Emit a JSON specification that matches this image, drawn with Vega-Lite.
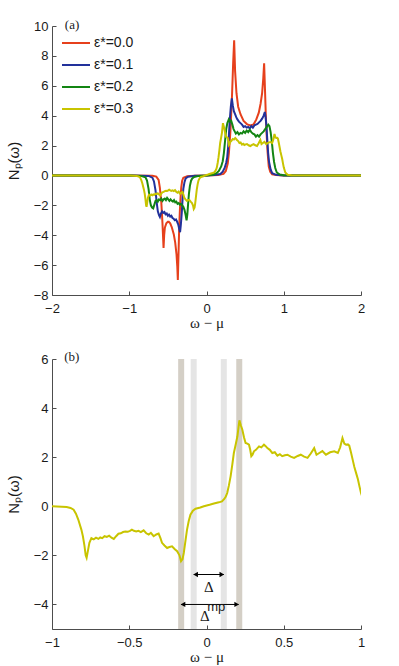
{
  "$schema": "https://vega.github.io/schema/vega-lite/v6.json",
  "background": "white",
  "padding": {"left": 6, "top": 18, "right": 5, "bottom": 5},
  "spacing": 20,
  "resolve": {"scale": {"color": "independent"}, "legend": {"color": "independent"}},
  "config": {
    "view": {"stroke": null},
    "axis": {
      "grid": false,
      "domainColor": "#4d4d4d",
      "tickColor": "#4d4d4d",
      "tickSize": -4,
      "labelFont": "Liberation Sans",
      "labelFontSize": 13,
      "labelColor": "#1a1a1a",
      "labelFlush": false,
      "labelOverlap": false,
      "titleFont": "Liberation Sans",
      "titleFontSize": 15,
      "titleFontWeight": "normal",
      "titleColor": "#1a1a1a"
    },
    "axisX": {"titleFont": "Liberation Serif", "titleFontSize": 15, "titlePadding": 0, "labelPadding": 11},
    "axisY": {"titlePadding": 12, "labelPadding": 8},
    "legend": {
      "labelFont": "Liberation Sans",
      "labelFontSize": 14,
      "labelColor": "#1a1a1a",
      "symbolType": "stroke",
      "symbolSize": 784,
      "symbolStrokeWidth": 2,
      "rowPadding": -10,
      "labelOffset": 3,
      "padding": 0,
      "title": null
    }
  },
  "datasets": {
    "curves": [
      {"w": -2, "N": 0, "eps": "ε*=0.0"},
      {"w": -1, "N": 0, "eps": "ε*=0.0"},
      {"w": -0.7, "N": -0.02, "eps": "ε*=0.0"},
      {"w": -0.65, "N": -0.08, "eps": "ε*=0.0"},
      {"w": -0.62, "N": -0.3, "eps": "ε*=0.0"},
      {"w": -0.604, "N": -0.82, "eps": "ε*=0.0"},
      {"w": -0.585, "N": -1.8, "eps": "ε*=0.0"},
      {"w": -0.57, "N": -3.2, "eps": "ε*=0.0"},
      {"w": -0.556, "N": -4.85, "eps": "ε*=0.0"},
      {"w": -0.548, "N": -4.0, "eps": "ε*=0.0"},
      {"w": -0.539, "N": -3.5, "eps": "ε*=0.0"},
      {"w": -0.52, "N": -3.2, "eps": "ε*=0.0"},
      {"w": -0.5, "N": -3.1, "eps": "ε*=0.0"},
      {"w": -0.488, "N": -3.1, "eps": "ε*=0.0"},
      {"w": -0.47, "N": -3.2, "eps": "ε*=0.0"},
      {"w": -0.45, "N": -3.45, "eps": "ε*=0.0"},
      {"w": -0.423, "N": -3.95, "eps": "ε*=0.0"},
      {"w": -0.405, "N": -4.5, "eps": "ε*=0.0"},
      {"w": -0.388, "N": -5.3, "eps": "ε*=0.0"},
      {"w": -0.378, "N": -6.1, "eps": "ε*=0.0"},
      {"w": -0.371, "N": -7.0, "eps": "ε*=0.0"},
      {"w": -0.362, "N": -5.2, "eps": "ε*=0.0"},
      {"w": -0.353, "N": -3.4, "eps": "ε*=0.0"},
      {"w": -0.345, "N": -2.4, "eps": "ε*=0.0"},
      {"w": -0.335, "N": -1.4, "eps": "ε*=0.0"},
      {"w": -0.327, "N": -0.82, "eps": "ε*=0.0"},
      {"w": -0.315, "N": -0.35, "eps": "ε*=0.0"},
      {"w": -0.3, "N": -0.15, "eps": "ε*=0.0"},
      {"w": -0.25, "N": -0.06, "eps": "ε*=0.0"},
      {"w": -0.15, "N": -0.02, "eps": "ε*=0.0"},
      {"w": 0, "N": 0, "eps": "ε*=0.0"},
      {"w": 0.15, "N": 0.03, "eps": "ε*=0.0"},
      {"w": 0.22, "N": 0.1, "eps": "ε*=0.0"},
      {"w": 0.25, "N": 0.3, "eps": "ε*=0.0"},
      {"w": 0.275, "N": 0.8, "eps": "ε*=0.0"},
      {"w": 0.29, "N": 1.5, "eps": "ε*=0.0"},
      {"w": 0.31, "N": 3.0, "eps": "ε*=0.0"},
      {"w": 0.33, "N": 5.3, "eps": "ε*=0.0"},
      {"w": 0.345, "N": 7.5, "eps": "ε*=0.0"},
      {"w": 0.358, "N": 9.05, "eps": "ε*=0.0"},
      {"w": 0.37, "N": 7.0, "eps": "ε*=0.0"},
      {"w": 0.388, "N": 5.5, "eps": "ε*=0.0"},
      {"w": 0.41, "N": 4.6, "eps": "ε*=0.0"},
      {"w": 0.44, "N": 4.1, "eps": "ε*=0.0"},
      {"w": 0.48, "N": 3.65, "eps": "ε*=0.0"},
      {"w": 0.526, "N": 3.42, "eps": "ε*=0.0"},
      {"w": 0.57, "N": 3.35, "eps": "ε*=0.0"},
      {"w": 0.61, "N": 3.42, "eps": "ε*=0.0"},
      {"w": 0.645, "N": 3.75, "eps": "ε*=0.0"},
      {"w": 0.677, "N": 4.2, "eps": "ε*=0.0"},
      {"w": 0.7, "N": 4.8, "eps": "ε*=0.0"},
      {"w": 0.72, "N": 5.5, "eps": "ε*=0.0"},
      {"w": 0.735, "N": 6.5, "eps": "ε*=0.0"},
      {"w": 0.746, "N": 7.5, "eps": "ε*=0.0"},
      {"w": 0.758, "N": 5.6, "eps": "ε*=0.0"},
      {"w": 0.768, "N": 4.0, "eps": "ε*=0.0"},
      {"w": 0.776, "N": 3.0, "eps": "ε*=0.0"},
      {"w": 0.79, "N": 1.6, "eps": "ε*=0.0"},
      {"w": 0.806, "N": 0.6, "eps": "ε*=0.0"},
      {"w": 0.825, "N": 0.25, "eps": "ε*=0.0"},
      {"w": 0.85, "N": 0.08, "eps": "ε*=0.0"},
      {"w": 0.9, "N": 0.03, "eps": "ε*=0.0"},
      {"w": 1.0, "N": 0, "eps": "ε*=0.0"},
      {"w": 2, "N": 0, "eps": "ε*=0.0"},

      {"w": -2, "N": 0, "eps": "ε*=0.1"},
      {"w": -1, "N": 0, "eps": "ε*=0.1"},
      {"w": -0.75, "N": -0.03, "eps": "ε*=0.1"},
      {"w": -0.7, "N": -0.15, "eps": "ε*=0.1"},
      {"w": -0.68, "N": -0.4, "eps": "ε*=0.1"},
      {"w": -0.66, "N": -1.0, "eps": "ε*=0.1"},
      {"w": -0.645, "N": -1.8, "eps": "ε*=0.1"},
      {"w": -0.63, "N": -2.4, "eps": "ε*=0.1"},
      {"w": -0.615, "N": -2.65, "eps": "ε*=0.1"},
      {"w": -0.603, "N": -2.78, "eps": "ε*=0.1"},
      {"w": -0.59, "N": -2.55, "eps": "ε*=0.1"},
      {"w": -0.575, "N": -2.4, "eps": "ε*=0.1"},
      {"w": -0.56, "N": -2.5, "eps": "ε*=0.1"},
      {"w": -0.545, "N": -2.45, "eps": "ε*=0.1"},
      {"w": -0.53, "N": -2.6, "eps": "ε*=0.1"},
      {"w": -0.515, "N": -2.55, "eps": "ε*=0.1"},
      {"w": -0.5, "N": -2.7, "eps": "ε*=0.1"},
      {"w": -0.485, "N": -2.62, "eps": "ε*=0.1"},
      {"w": -0.47, "N": -2.75, "eps": "ε*=0.1"},
      {"w": -0.455, "N": -2.7, "eps": "ε*=0.1"},
      {"w": -0.44, "N": -2.85, "eps": "ε*=0.1"},
      {"w": -0.425, "N": -2.9, "eps": "ε*=0.1"},
      {"w": -0.41, "N": -3.0, "eps": "ε*=0.1"},
      {"w": -0.395, "N": -2.95, "eps": "ε*=0.1"},
      {"w": -0.38, "N": -3.1, "eps": "ε*=0.1"},
      {"w": -0.365, "N": -3.3, "eps": "ε*=0.1"},
      {"w": -0.352, "N": -3.6, "eps": "ε*=0.1"},
      {"w": -0.342, "N": -3.8, "eps": "ε*=0.1"},
      {"w": -0.332, "N": -3.3, "eps": "ε*=0.1"},
      {"w": -0.32, "N": -2.5, "eps": "ε*=0.1"},
      {"w": -0.31, "N": -1.6, "eps": "ε*=0.1"},
      {"w": -0.3, "N": -0.9, "eps": "ε*=0.1"},
      {"w": -0.285, "N": -0.45, "eps": "ε*=0.1"},
      {"w": -0.27, "N": -0.2, "eps": "ε*=0.1"},
      {"w": -0.24, "N": -0.08, "eps": "ε*=0.1"},
      {"w": -0.15, "N": -0.02, "eps": "ε*=0.1"},
      {"w": 0, "N": 0, "eps": "ε*=0.1"},
      {"w": 0.1, "N": 0.03, "eps": "ε*=0.1"},
      {"w": 0.18, "N": 0.1, "eps": "ε*=0.1"},
      {"w": 0.21, "N": 0.25, "eps": "ε*=0.1"},
      {"w": 0.235, "N": 0.5, "eps": "ε*=0.1"},
      {"w": 0.255, "N": 0.85, "eps": "ε*=0.1"},
      {"w": 0.268, "N": 1.2, "eps": "ε*=0.1"},
      {"w": 0.28, "N": 1.9, "eps": "ε*=0.1"},
      {"w": 0.29, "N": 2.7, "eps": "ε*=0.1"},
      {"w": 0.302, "N": 3.75, "eps": "ε*=0.1"},
      {"w": 0.315, "N": 4.6, "eps": "ε*=0.1"},
      {"w": 0.328, "N": 5.15, "eps": "ε*=0.1"},
      {"w": 0.34, "N": 4.7, "eps": "ε*=0.1"},
      {"w": 0.354, "N": 4.3, "eps": "ε*=0.1"},
      {"w": 0.37, "N": 4.1, "eps": "ε*=0.1"},
      {"w": 0.385, "N": 3.9, "eps": "ε*=0.1"},
      {"w": 0.4, "N": 3.75, "eps": "ε*=0.1"},
      {"w": 0.42, "N": 3.6, "eps": "ε*=0.1"},
      {"w": 0.44, "N": 3.5, "eps": "ε*=0.1"},
      {"w": 0.46, "N": 3.4, "eps": "ε*=0.1"},
      {"w": 0.48, "N": 3.25, "eps": "ε*=0.1"},
      {"w": 0.5, "N": 3.3, "eps": "ε*=0.1"},
      {"w": 0.52, "N": 3.2, "eps": "ε*=0.1"},
      {"w": 0.54, "N": 3.25, "eps": "ε*=0.1"},
      {"w": 0.56, "N": 3.15, "eps": "ε*=0.1"},
      {"w": 0.58, "N": 3.3, "eps": "ε*=0.1"},
      {"w": 0.6, "N": 3.2, "eps": "ε*=0.1"},
      {"w": 0.62, "N": 3.35, "eps": "ε*=0.1"},
      {"w": 0.64, "N": 3.4, "eps": "ε*=0.1"},
      {"w": 0.66, "N": 3.45, "eps": "ε*=0.1"},
      {"w": 0.68, "N": 3.55, "eps": "ε*=0.1"},
      {"w": 0.7, "N": 3.65, "eps": "ε*=0.1"},
      {"w": 0.72, "N": 3.8, "eps": "ε*=0.1"},
      {"w": 0.74, "N": 4.0, "eps": "ε*=0.1"},
      {"w": 0.755, "N": 4.25, "eps": "ε*=0.1"},
      {"w": 0.765, "N": 3.9, "eps": "ε*=0.1"},
      {"w": 0.776, "N": 3.3, "eps": "ε*=0.1"},
      {"w": 0.788, "N": 2.3, "eps": "ε*=0.1"},
      {"w": 0.798, "N": 1.5, "eps": "ε*=0.1"},
      {"w": 0.81, "N": 0.9, "eps": "ε*=0.1"},
      {"w": 0.83, "N": 0.4, "eps": "ε*=0.1"},
      {"w": 0.85, "N": 0.15, "eps": "ε*=0.1"},
      {"w": 0.9, "N": 0.04, "eps": "ε*=0.1"},
      {"w": 1.0, "N": 0, "eps": "ε*=0.1"},
      {"w": 2, "N": 0, "eps": "ε*=0.1"},

      {"w": -2, "N": 0, "eps": "ε*=0.2"},
      {"w": -1, "N": 0, "eps": "ε*=0.2"},
      {"w": -0.85, "N": -0.03, "eps": "ε*=0.2"},
      {"w": -0.79, "N": -0.12, "eps": "ε*=0.2"},
      {"w": -0.77, "N": -0.35, "eps": "ε*=0.2"},
      {"w": -0.75, "N": -0.9, "eps": "ε*=0.2"},
      {"w": -0.735, "N": -1.6, "eps": "ε*=0.2"},
      {"w": -0.72, "N": -2.0, "eps": "ε*=0.2"},
      {"w": -0.705, "N": -2.15, "eps": "ε*=0.2"},
      {"w": -0.69, "N": -2.2, "eps": "ε*=0.2"},
      {"w": -0.675, "N": -1.95, "eps": "ε*=0.2"},
      {"w": -0.66, "N": -1.7, "eps": "ε*=0.2"},
      {"w": -0.645, "N": -1.65, "eps": "ε*=0.2"},
      {"w": -0.63, "N": -1.75, "eps": "ε*=0.2"},
      {"w": -0.615, "N": -1.6, "eps": "ε*=0.2"},
      {"w": -0.6, "N": -1.65, "eps": "ε*=0.2"},
      {"w": -0.585, "N": -1.55, "eps": "ε*=0.2"},
      {"w": -0.57, "N": -1.7, "eps": "ε*=0.2"},
      {"w": -0.555, "N": -1.6, "eps": "ε*=0.2"},
      {"w": -0.54, "N": -1.55, "eps": "ε*=0.2"},
      {"w": -0.525, "N": -1.65, "eps": "ε*=0.2"},
      {"w": -0.51, "N": -1.5, "eps": "ε*=0.2"},
      {"w": -0.495, "N": -1.6, "eps": "ε*=0.2"},
      {"w": -0.48, "N": -1.7, "eps": "ε*=0.2"},
      {"w": -0.465, "N": -1.6, "eps": "ε*=0.2"},
      {"w": -0.45, "N": -1.7, "eps": "ε*=0.2"},
      {"w": -0.435, "N": -1.75, "eps": "ε*=0.2"},
      {"w": -0.42, "N": -1.65, "eps": "ε*=0.2"},
      {"w": -0.405, "N": -1.8, "eps": "ε*=0.2"},
      {"w": -0.39, "N": -1.75, "eps": "ε*=0.2"},
      {"w": -0.375, "N": -1.9, "eps": "ε*=0.2"},
      {"w": -0.36, "N": -1.85, "eps": "ε*=0.2"},
      {"w": -0.345, "N": -1.95, "eps": "ε*=0.2"},
      {"w": -0.33, "N": -1.9, "eps": "ε*=0.2"},
      {"w": -0.315, "N": -2.0, "eps": "ε*=0.2"},
      {"w": -0.3, "N": -2.1, "eps": "ε*=0.2"},
      {"w": -0.285, "N": -2.3, "eps": "ε*=0.2"},
      {"w": -0.27, "N": -2.65, "eps": "ε*=0.2"},
      {"w": -0.258, "N": -3.0, "eps": "ε*=0.2"},
      {"w": -0.248, "N": -2.6, "eps": "ε*=0.2"},
      {"w": -0.238, "N": -1.9, "eps": "ε*=0.2"},
      {"w": -0.228, "N": -1.25, "eps": "ε*=0.2"},
      {"w": -0.215, "N": -0.7, "eps": "ε*=0.2"},
      {"w": -0.2, "N": -0.35, "eps": "ε*=0.2"},
      {"w": -0.185, "N": -0.2, "eps": "ε*=0.2"},
      {"w": -0.16, "N": -0.1, "eps": "ε*=0.2"},
      {"w": -0.1, "N": -0.03, "eps": "ε*=0.2"},
      {"w": 0, "N": 0, "eps": "ε*=0.2"},
      {"w": 0.08, "N": 0.05, "eps": "ε*=0.2"},
      {"w": 0.13, "N": 0.15, "eps": "ε*=0.2"},
      {"w": 0.16, "N": 0.3, "eps": "ε*=0.2"},
      {"w": 0.19, "N": 0.6, "eps": "ε*=0.2"},
      {"w": 0.21, "N": 0.95, "eps": "ε*=0.2"},
      {"w": 0.225, "N": 1.5, "eps": "ε*=0.2"},
      {"w": 0.24, "N": 2.3, "eps": "ε*=0.2"},
      {"w": 0.255, "N": 3.1, "eps": "ε*=0.2"},
      {"w": 0.27, "N": 3.5, "eps": "ε*=0.2"},
      {"w": 0.289, "N": 3.75, "eps": "ε*=0.2"},
      {"w": 0.305, "N": 3.6, "eps": "ε*=0.2"},
      {"w": 0.32, "N": 3.65, "eps": "ε*=0.2"},
      {"w": 0.335, "N": 3.4, "eps": "ε*=0.2"},
      {"w": 0.35, "N": 3.1, "eps": "ε*=0.2"},
      {"w": 0.365, "N": 2.95, "eps": "ε*=0.2"},
      {"w": 0.38, "N": 2.8, "eps": "ε*=0.2"},
      {"w": 0.4, "N": 2.9, "eps": "ε*=0.2"},
      {"w": 0.42, "N": 2.75, "eps": "ε*=0.2"},
      {"w": 0.44, "N": 2.85, "eps": "ε*=0.2"},
      {"w": 0.46, "N": 2.8, "eps": "ε*=0.2"},
      {"w": 0.48, "N": 2.95, "eps": "ε*=0.2"},
      {"w": 0.5, "N": 2.85, "eps": "ε*=0.2"},
      {"w": 0.52, "N": 3.0, "eps": "ε*=0.2"},
      {"w": 0.54, "N": 2.9, "eps": "ε*=0.2"},
      {"w": 0.56, "N": 3.05, "eps": "ε*=0.2"},
      {"w": 0.58, "N": 2.9, "eps": "ε*=0.2"},
      {"w": 0.6, "N": 2.8, "eps": "ε*=0.2"},
      {"w": 0.62, "N": 2.75, "eps": "ε*=0.2"},
      {"w": 0.64, "N": 2.6, "eps": "ε*=0.2"},
      {"w": 0.66, "N": 2.7, "eps": "ε*=0.2"},
      {"w": 0.68, "N": 2.6, "eps": "ε*=0.2"},
      {"w": 0.7, "N": 2.75, "eps": "ε*=0.2"},
      {"w": 0.72, "N": 2.85, "eps": "ε*=0.2"},
      {"w": 0.74, "N": 2.95, "eps": "ε*=0.2"},
      {"w": 0.76, "N": 3.1, "eps": "ε*=0.2"},
      {"w": 0.78, "N": 3.25, "eps": "ε*=0.2"},
      {"w": 0.8, "N": 3.4, "eps": "ε*=0.2"},
      {"w": 0.815, "N": 3.3, "eps": "ε*=0.2"},
      {"w": 0.83, "N": 2.9, "eps": "ε*=0.2"},
      {"w": 0.845, "N": 2.3, "eps": "ε*=0.2"},
      {"w": 0.86, "N": 1.5, "eps": "ε*=0.2"},
      {"w": 0.875, "N": 0.9, "eps": "ε*=0.2"},
      {"w": 0.89, "N": 0.5, "eps": "ε*=0.2"},
      {"w": 0.91, "N": 0.2, "eps": "ε*=0.2"},
      {"w": 0.95, "N": 0.06, "eps": "ε*=0.2"},
      {"w": 1.0, "N": 0.02, "eps": "ε*=0.2"},
      {"w": 1.1, "N": 0, "eps": "ε*=0.2"},
      {"w": 2, "N": 0, "eps": "ε*=0.2"},

      {"w": -2, "N": 0, "eps": "ε*=0.3"},
      {"w": -1, "N": 0, "eps": "ε*=0.3"},
      {"w": -0.905, "N": -0.03, "eps": "ε*=0.3"},
      {"w": -0.88, "N": -0.07, "eps": "ε*=0.3"},
      {"w": -0.86, "N": -0.14, "eps": "ε*=0.3"},
      {"w": -0.845, "N": -0.3, "eps": "ε*=0.3"},
      {"w": -0.83, "N": -0.54, "eps": "ε*=0.3"},
      {"w": -0.81, "N": -0.95, "eps": "ε*=0.3"},
      {"w": -0.8, "N": -1.22, "eps": "ε*=0.3"},
      {"w": -0.79, "N": -1.6, "eps": "ε*=0.3"},
      {"w": -0.782, "N": -2.0, "eps": "ε*=0.3"},
      {"w": -0.776, "N": -2.1, "eps": "ε*=0.3"},
      {"w": -0.77, "N": -1.9, "eps": "ε*=0.3"},
      {"w": -0.758, "N": -1.49, "eps": "ε*=0.3"},
      {"w": -0.745, "N": -1.3, "eps": "ε*=0.3"},
      {"w": -0.73, "N": -1.35, "eps": "ε*=0.3"},
      {"w": -0.715, "N": -1.28, "eps": "ε*=0.3"},
      {"w": -0.7, "N": -1.33, "eps": "ε*=0.3"},
      {"w": -0.688, "N": -1.27, "eps": "ε*=0.3"},
      {"w": -0.675, "N": -1.3, "eps": "ε*=0.3"},
      {"w": -0.66, "N": -1.22, "eps": "ε*=0.3"},
      {"w": -0.645, "N": -1.25, "eps": "ε*=0.3"},
      {"w": -0.63, "N": -1.2, "eps": "ε*=0.3"},
      {"w": -0.615, "N": -1.28, "eps": "ε*=0.3"},
      {"w": -0.6, "N": -1.33, "eps": "ε*=0.3"},
      {"w": -0.585, "N": -1.22, "eps": "ε*=0.3"},
      {"w": -0.57, "N": -1.12, "eps": "ε*=0.3"},
      {"w": -0.555, "N": -1.1, "eps": "ε*=0.3"},
      {"w": -0.54, "N": -1.05, "eps": "ε*=0.3"},
      {"w": -0.525, "N": -1.03, "eps": "ε*=0.3"},
      {"w": -0.51, "N": -1.04, "eps": "ε*=0.3"},
      {"w": -0.495, "N": -1.0, "eps": "ε*=0.3"},
      {"w": -0.483, "N": -0.95, "eps": "ε*=0.3"},
      {"w": -0.47, "N": -1.0, "eps": "ε*=0.3"},
      {"w": -0.455, "N": -1.03, "eps": "ε*=0.3"},
      {"w": -0.44, "N": -1.0, "eps": "ε*=0.3"},
      {"w": -0.425, "N": -1.05, "eps": "ε*=0.3"},
      {"w": -0.407, "N": -0.98, "eps": "ε*=0.3"},
      {"w": -0.39, "N": -1.1, "eps": "ε*=0.3"},
      {"w": -0.374, "N": -1.15, "eps": "ε*=0.3"},
      {"w": -0.36, "N": -1.08, "eps": "ε*=0.3"},
      {"w": -0.342, "N": -1.22, "eps": "ε*=0.3"},
      {"w": -0.325, "N": -1.15, "eps": "ε*=0.3"},
      {"w": -0.31, "N": -1.11, "eps": "ε*=0.3"},
      {"w": -0.298, "N": -1.3, "eps": "ε*=0.3"},
      {"w": -0.288, "N": -1.49, "eps": "ε*=0.3"},
      {"w": -0.272, "N": -1.6, "eps": "ε*=0.3"},
      {"w": -0.255, "N": -1.7, "eps": "ε*=0.3"},
      {"w": -0.24, "N": -1.66, "eps": "ε*=0.3"},
      {"w": -0.223, "N": -1.63, "eps": "ε*=0.3"},
      {"w": -0.205, "N": -1.75, "eps": "ε*=0.3"},
      {"w": -0.19, "N": -1.83, "eps": "ε*=0.3"},
      {"w": -0.175, "N": -2.0, "eps": "ε*=0.3"},
      {"w": -0.165, "N": -2.24, "eps": "ε*=0.3"},
      {"w": -0.155, "N": -2.15, "eps": "ε*=0.3"},
      {"w": -0.147, "N": -1.9, "eps": "ε*=0.3"},
      {"w": -0.136, "N": -1.4, "eps": "ε*=0.3"},
      {"w": -0.126, "N": -0.95, "eps": "ε*=0.3"},
      {"w": -0.115, "N": -0.6, "eps": "ε*=0.3"},
      {"w": -0.104, "N": -0.34, "eps": "ε*=0.3"},
      {"w": -0.088, "N": -0.18, "eps": "ε*=0.3"},
      {"w": -0.071, "N": -0.1, "eps": "ε*=0.3"},
      {"w": -0.04, "N": -0.05, "eps": "ε*=0.3"},
      {"w": -0.017, "N": 0, "eps": "ε*=0.3"},
      {"w": 0.02, "N": 0.06, "eps": "ε*=0.3"},
      {"w": 0.048, "N": 0.11, "eps": "ε*=0.3"},
      {"w": 0.08, "N": 0.16, "eps": "ε*=0.3"},
      {"w": 0.1, "N": 0.2, "eps": "ε*=0.3"},
      {"w": 0.115, "N": 0.3, "eps": "ε*=0.3"},
      {"w": 0.125, "N": 0.4, "eps": "ε*=0.3"},
      {"w": 0.134, "N": 0.54, "eps": "ε*=0.3"},
      {"w": 0.145, "N": 0.85, "eps": "ε*=0.3"},
      {"w": 0.156, "N": 1.22, "eps": "ε*=0.3"},
      {"w": 0.167, "N": 1.7, "eps": "ε*=0.3"},
      {"w": 0.177, "N": 2.17, "eps": "ε*=0.3"},
      {"w": 0.19, "N": 2.55, "eps": "ε*=0.3"},
      {"w": 0.2, "N": 2.85, "eps": "ε*=0.3"},
      {"w": 0.207, "N": 3.2, "eps": "ε*=0.3"},
      {"w": 0.213, "N": 3.5, "eps": "ε*=0.3"},
      {"w": 0.222, "N": 3.3, "eps": "ε*=0.3"},
      {"w": 0.232, "N": 3.12, "eps": "ε*=0.3"},
      {"w": 0.243, "N": 2.8, "eps": "ε*=0.3"},
      {"w": 0.253, "N": 2.58, "eps": "ε*=0.3"},
      {"w": 0.264, "N": 2.55, "eps": "ε*=0.3"},
      {"w": 0.275, "N": 2.51, "eps": "ε*=0.3"},
      {"w": 0.283, "N": 2.3, "eps": "ε*=0.3"},
      {"w": 0.29, "N": 2.04, "eps": "ε*=0.3"},
      {"w": 0.298, "N": 2.1, "eps": "ε*=0.3"},
      {"w": 0.307, "N": 2.24, "eps": "ε*=0.3"},
      {"w": 0.32, "N": 2.3, "eps": "ε*=0.3"},
      {"w": 0.34, "N": 2.44, "eps": "ε*=0.3"},
      {"w": 0.355, "N": 2.4, "eps": "ε*=0.3"},
      {"w": 0.372, "N": 2.51, "eps": "ε*=0.3"},
      {"w": 0.383, "N": 2.45, "eps": "ε*=0.3"},
      {"w": 0.394, "N": 2.37, "eps": "ε*=0.3"},
      {"w": 0.41, "N": 2.3, "eps": "ε*=0.3"},
      {"w": 0.426, "N": 2.17, "eps": "ε*=0.3"},
      {"w": 0.442, "N": 2.2, "eps": "ε*=0.3"},
      {"w": 0.459, "N": 2.06, "eps": "ε*=0.3"},
      {"w": 0.475, "N": 2.12, "eps": "ε*=0.3"},
      {"w": 0.49, "N": 2.04, "eps": "ε*=0.3"},
      {"w": 0.507, "N": 2.08, "eps": "ε*=0.3"},
      {"w": 0.524, "N": 2.1, "eps": "ε*=0.3"},
      {"w": 0.545, "N": 2.02, "eps": "ε*=0.3"},
      {"w": 0.567, "N": 1.97, "eps": "ε*=0.3"},
      {"w": 0.59, "N": 2.05, "eps": "ε*=0.3"},
      {"w": 0.61, "N": 2.1, "eps": "ε*=0.3"},
      {"w": 0.632, "N": 2.02, "eps": "ε*=0.3"},
      {"w": 0.654, "N": 1.97, "eps": "ε*=0.3"},
      {"w": 0.675, "N": 2.15, "eps": "ε*=0.3"},
      {"w": 0.697, "N": 2.37, "eps": "ε*=0.3"},
      {"w": 0.712, "N": 2.1, "eps": "ε*=0.3"},
      {"w": 0.73, "N": 2.17, "eps": "ε*=0.3"},
      {"w": 0.75, "N": 2.25, "eps": "ε*=0.3"},
      {"w": 0.773, "N": 2.1, "eps": "ε*=0.3"},
      {"w": 0.8, "N": 2.2, "eps": "ε*=0.3"},
      {"w": 0.827, "N": 2.24, "eps": "ε*=0.3"},
      {"w": 0.85, "N": 2.17, "eps": "ε*=0.3"},
      {"w": 0.865, "N": 2.4, "eps": "ε*=0.3"},
      {"w": 0.88, "N": 2.78, "eps": "ε*=0.3"},
      {"w": 0.892, "N": 2.55, "eps": "ε*=0.3"},
      {"w": 0.903, "N": 2.51, "eps": "ε*=0.3"},
      {"w": 0.915, "N": 2.52, "eps": "ε*=0.3"},
      {"w": 0.924, "N": 2.47, "eps": "ε*=0.3"},
      {"w": 0.935, "N": 2.2, "eps": "ε*=0.3"},
      {"w": 0.946, "N": 1.9, "eps": "ε*=0.3"},
      {"w": 0.957, "N": 1.6, "eps": "ε*=0.3"},
      {"w": 0.968, "N": 1.36, "eps": "ε*=0.3"},
      {"w": 0.98, "N": 1.1, "eps": "ε*=0.3"},
      {"w": 0.99, "N": 0.81, "eps": "ε*=0.3"},
      {"w": 1.0, "N": 0.54, "eps": "ε*=0.3"},
      {"w": 1.02, "N": 0.2, "eps": "ε*=0.3"},
      {"w": 1.05, "N": 0.05, "eps": "ε*=0.3"},
      {"w": 1.1, "N": 0.01, "eps": "ε*=0.3"},
      {"w": 2, "N": 0, "eps": "ε*=0.3"}
    ],
    "bands": [
      {"w": -0.164, "kind": "outer"},
      {"w": -0.083, "kind": "inner"},
      {"w": 0.112, "kind": "inner"},
      {"w": 0.212, "kind": "outer"}
    ],
    "arrows": [
      {"x1": -0.083, "x2": 0.112, "y": -2.78, "name": "Δ"},
      {"x1": -0.165, "x2": 0.208, "y": -4.0, "name": "Δmp"}
    ],
    "symbols": [
      {"x": 0.015, "y": -3.27, "t": "Δ"},
      {"x": -0.011, "y": -4.48, "t": "Δ"}
    ]
  },
  "vconcat": [
    {
      "width": 309,
      "height": 269,
      "layer": [
        {
          "data": {"name": "curves"},
          "mark": {"type": "line", "strokeWidth": 2, "clip": true},
          "encoding": {
            "x": {"field": "w", "type": "quantitative", "scale": {"domain": [-2, 2], "nice": false}, "axis": {"values": [-2, -1, 0, 1, 2], "format": "~r", "labelOverlap": false, "title": "ω − μ"}},
            "y": {"field": "N", "type": "quantitative", "scale": {"domain": [-8, 10], "nice": false}, "axis": {"values": [-8, -6, -4, -2, 0, 2, 4, 6, 8, 10], "format": "~r", "labelOverlap": false, "title": "Nₚ(ω)"}},
            "color": {
              "field": "eps", "type": "nominal",
              "scale": {"domain": ["ε*=0.0", "ε*=0.1", "ε*=0.2", "ε*=0.3"], "range": ["#e6401c", "#22319b", "#138513", "#c8c400"]},
              "legend": {"orient": "none", "legendX": 9, "legendY": 2, "title": null}
            }
          }
        },
        {
          "data": {"values": [{"x": -1.74, "y": 10.07, "t": "(a)"}]},
          "mark": {"type": "text", "font": "Liberation Serif", "fontSize": 13, "color": "#1a1a1a", "align": "center", "baseline": "middle"},
          "encoding": {
            "x": {"field": "x", "type": "quantitative", "axis": {"values": [-2, -1, 0, 1, 2], "format": "~r", "labelOverlap": false, "title": "ω − μ"}},
            "y": {"field": "y", "type": "quantitative", "axis": {"values": [-8, -6, -4, -2, 0, 2, 4, 6, 8, 10], "format": "~r", "labelOverlap": false, "title": "Nₚ(ω)"}},
            "text": {"field": "t"}
          }
        }
      ]
    },
    {
      "width": 309,
      "height": 270,
      "layer": [
        {
          "data": {"name": "bands"},
          "mark": {"type": "rule", "strokeWidth": 6},
          "encoding": {
            "x": {"field": "w", "type": "quantitative", "scale": {"domain": [-1, 1], "nice": false}, "axis": {"values": [-1, -0.5, 0, 0.5, 1], "format": "~r", "labelOverlap": false, "title": "ω − μ"}},
            "color": {"field": "kind", "type": "nominal", "scale": {"domain": ["outer", "inner"], "range": ["#d4cfc6", "#e5e5e5"]}, "legend": null}
          }
        },
        {
          "data": {"name": "curves"},
          "transform": [{"filter": "datum.eps === 'ε*=0.3'"}],
          "mark": {"type": "line", "strokeWidth": 2, "clip": true, "color": "#c8c400"},
          "encoding": {
            "x": {"field": "w", "type": "quantitative", "scale": {"domain": [-1, 1], "nice": false}, "axis": {"values": [-1, -0.5, 0, 0.5, 1], "format": "~r", "labelOverlap": false, "title": "ω − μ"}},
            "y": {"field": "N", "type": "quantitative", "scale": {"domain": [-5, 6], "nice": false}, "axis": {"values": [-4, -2, 0, 2, 4, 6], "format": "~r", "labelOverlap": false, "title": "Nₚ(ω)"}}
          }
        },
        {
          "data": {"name": "arrows"},
          "mark": {"type": "rule", "strokeWidth": 1, "color": "black"},
          "encoding": {
            "x": {"field": "x1", "type": "quantitative", "scale": {"domain": [-1, 1], "nice": false}, "axis": {"values": [-1, -0.5, 0, 0.5, 1], "format": "~r", "labelOverlap": false, "title": "ω − μ"}},
            "x2": {"field": "x2"},
            "y": {"field": "y", "type": "quantitative", "scale": {"domain": [-5, 6], "nice": false}, "axis": {"values": [-4, -2, 0, 2, 4, 6], "format": "~r", "labelOverlap": false, "title": "Nₚ(ω)"}}
          }
        },
        {
          "data": {"name": "arrows"},
          "mark": {"type": "point", "shape": "triangle-left", "filled": true, "color": "black", "size": 28, "opacity": 1, "xOffset": 2},
          "encoding": {
            "x": {"field": "x1", "type": "quantitative", "scale": {"domain": [-1, 1], "nice": false}, "axis": {"values": [-1, -0.5, 0, 0.5, 1], "format": "~r", "labelOverlap": false, "title": "ω − μ"}},
            "y": {"field": "y", "type": "quantitative", "scale": {"domain": [-5, 6], "nice": false}, "axis": {"values": [-4, -2, 0, 2, 4, 6], "format": "~r", "labelOverlap": false, "title": "Nₚ(ω)"}}
          }
        },
        {
          "data": {"name": "arrows"},
          "mark": {"type": "point", "shape": "triangle-right", "filled": true, "color": "black", "size": 28, "opacity": 1, "xOffset": -2},
          "encoding": {
            "x": {"field": "x2", "type": "quantitative", "scale": {"domain": [-1, 1], "nice": false}, "axis": {"values": [-1, -0.5, 0, 0.5, 1], "format": "~r", "labelOverlap": false, "title": "ω − μ"}},
            "y": {"field": "y", "type": "quantitative", "scale": {"domain": [-5, 6], "nice": false}, "axis": {"values": [-4, -2, 0, 2, 4, 6], "format": "~r", "labelOverlap": false, "title": "Nₚ(ω)"}}
          }
        },
        {
          "data": {"name": "symbols"},
          "mark": {"type": "text", "font": "Liberation Serif", "fontSize": 15, "color": "#1a1a1a", "align": "center", "baseline": "middle"},
          "encoding": {
            "x": {"field": "x", "type": "quantitative", "scale": {"domain": [-1, 1], "nice": false}, "axis": {"values": [-1, -0.5, 0, 0.5, 1], "format": "~r", "labelOverlap": false, "title": "ω − μ"}},
            "y": {"field": "y", "type": "quantitative", "scale": {"domain": [-5, 6], "nice": false}, "axis": {"values": [-4, -2, 0, 2, 4, 6], "format": "~r", "labelOverlap": false, "title": "Nₚ(ω)"}},
            "text": {"field": "t"}
          }
        },
        {
          "data": {"values": [{"x": 0.063, "y": -4.12, "t": "mp"}]},
          "mark": {"type": "text", "font": "Liberation Sans", "fontSize": 13, "color": "#1a1a1a", "align": "center", "baseline": "middle"},
          "encoding": {
            "x": {"field": "x", "type": "quantitative", "scale": {"domain": [-1, 1], "nice": false}, "axis": {"values": [-1, -0.5, 0, 0.5, 1], "format": "~r", "labelOverlap": false, "title": "ω − μ"}},
            "y": {"field": "y", "type": "quantitative", "scale": {"domain": [-5, 6], "nice": false}, "axis": {"values": [-4, -2, 0, 2, 4, 6], "format": "~r", "labelOverlap": false, "title": "Nₚ(ω)"}},
            "text": {"field": "t"}
          }
        },
        {
          "data": {"values": [{"x": -0.872, "y": 6.1, "t": "(b)"}]},
          "mark": {"type": "text", "font": "Liberation Serif", "fontSize": 13, "color": "#1a1a1a", "align": "center", "baseline": "middle"},
          "encoding": {
            "x": {"field": "x", "type": "quantitative", "scale": {"domain": [-1, 1], "nice": false}, "axis": {"values": [-1, -0.5, 0, 0.5, 1], "format": "~r", "labelOverlap": false, "title": "ω − μ"}},
            "y": {"field": "y", "type": "quantitative", "scale": {"domain": [-5, 6], "nice": false}, "axis": {"values": [-4, -2, 0, 2, 4, 6], "format": "~r", "labelOverlap": false, "title": "Nₚ(ω)"}},
            "text": {"field": "t"}
          }
        }
      ]
    }
  ]
}
